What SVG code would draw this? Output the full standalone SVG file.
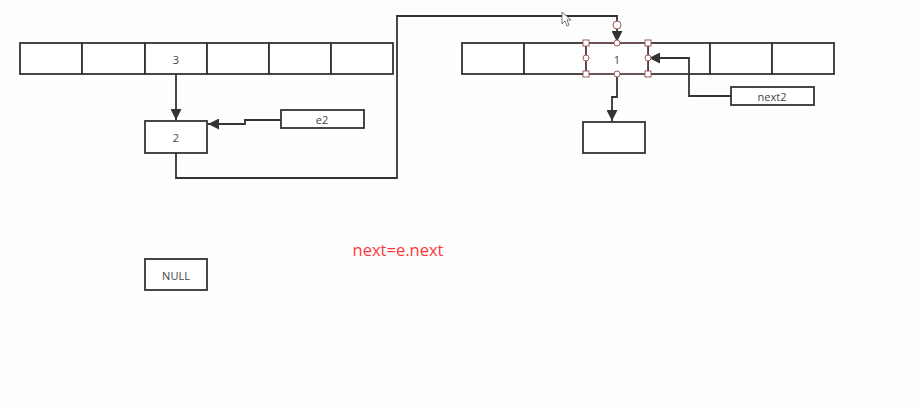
<svg xmlns="http://www.w3.org/2000/svg" width="923" height="409" viewBox="0 0 923 409">
<style>
.box{fill:#fff;stroke:#333;stroke-width:1.8}
.sel{fill:#fff;stroke:#5a4040;stroke-width:1.8}
.t{font-family:"Open Sans","Liberation Sans",sans-serif;font-size:11px;fill:#444;text-anchor:middle;dominant-baseline:central}
.c{fill:none;stroke:#333;stroke-width:1.8}
.h{fill:#fff;stroke:#9a5a5a;stroke-width:1}
</style>
<defs>
<marker id="ah" viewBox="0 0 10 10" refX="10" refY="5" markerWidth="11" markerHeight="11" markerUnits="userSpaceOnUse" orient="auto">
<path d="M0,0 L10,5 L0,10 z" fill="#333"/>
</marker>
</defs>
<rect width="923" height="409" fill="#fefefe"/>
<g id="left-array">
<rect class="box" x="20" y="43" width="62" height="31"/>
<rect class="box" x="82" y="43" width="63" height="31"/>
<rect class="box" x="145" y="43" width="62" height="31"/>
<rect class="box" x="207" y="43" width="62" height="31"/>
<rect class="box" x="269" y="43" width="62" height="31"/>
<rect class="box" x="331" y="43" width="62" height="31"/>
<text class="t" x="176" y="59">3</text>
</g>
<g id="right-array">
<rect class="box" x="462" y="43" width="62" height="31"/>
<rect class="box" x="524" y="43" width="62" height="31"/>
<rect class="box" x="648" y="43" width="62" height="31"/>
<rect class="box" x="710" y="43" width="62" height="31"/>
<rect class="box" x="772" y="43" width="62" height="31"/>
<rect class="sel" x="586" y="43" width="62" height="31"/>
<text class="t" x="617" y="59">1</text>
</g>
<g id="node-2">
<rect class="box" x="145" y="121" width="62" height="32"/>
<text class="t" x="176" y="137">2</text>
</g>
<g id="node-e2">
<rect class="box" x="281" y="110" width="83" height="18"/>
<text class="t" x="322" y="119">e2</text>
</g>
<g id="node-next2">
<rect class="box" x="731" y="87" width="83" height="18"/>
<text class="t" x="772" y="96">next2</text>
</g>
<g id="node-empty">
<rect class="box" x="583" y="122" width="62" height="31"/>
</g>
<g id="node-null">
<rect class="box" x="145" y="259" width="62" height="31"/>
<text class="t" x="176" y="275">NULL</text>
</g>
<g id="connectors">
<path class="c" d="M176,74 V120" marker-end="url(#ah)"/>
<path class="c" d="M281,120 H245 V124 H208" marker-end="url(#ah)"/>
<path class="c" d="M176,153 V178 H397 V16 H617 V42" marker-end="url(#ah)"/>
<path class="c" d="M617,74 V97 H612 V121" marker-end="url(#ah)"/>
<path class="c" d="M731,96 H689 V58 H649" marker-end="url(#ah)"/>
</g>
<g id="selection-handles">
<circle class="h" cx="617" cy="25" r="4"/>
<rect class="h" x="583" y="40" width="6" height="6"/>
<rect class="h" x="645" y="40" width="6" height="6"/>
<rect class="h" x="583" y="71" width="6" height="6"/>
<rect class="h" x="645" y="71" width="6" height="6"/>
<circle class="h" cx="617" cy="43" r="3"/>
<circle class="h" cx="586" cy="58" r="3"/>
<circle class="h" cx="648" cy="58" r="3"/>
<circle class="h" cx="617" cy="74" r="3"/>
</g>
<g id="cursor">
<path d="M562,12 V24 L565,21 L567,26 L569,25 L567,20 L571,20 Z" fill="#fff" stroke="#555" stroke-width="0.8"/>
</g>
<text x="398" y="256" font-family="Open Sans, Liberation Sans, sans-serif" font-size="16.5" fill="#ff3838" text-anchor="middle">next=e.next</text>
</svg>
